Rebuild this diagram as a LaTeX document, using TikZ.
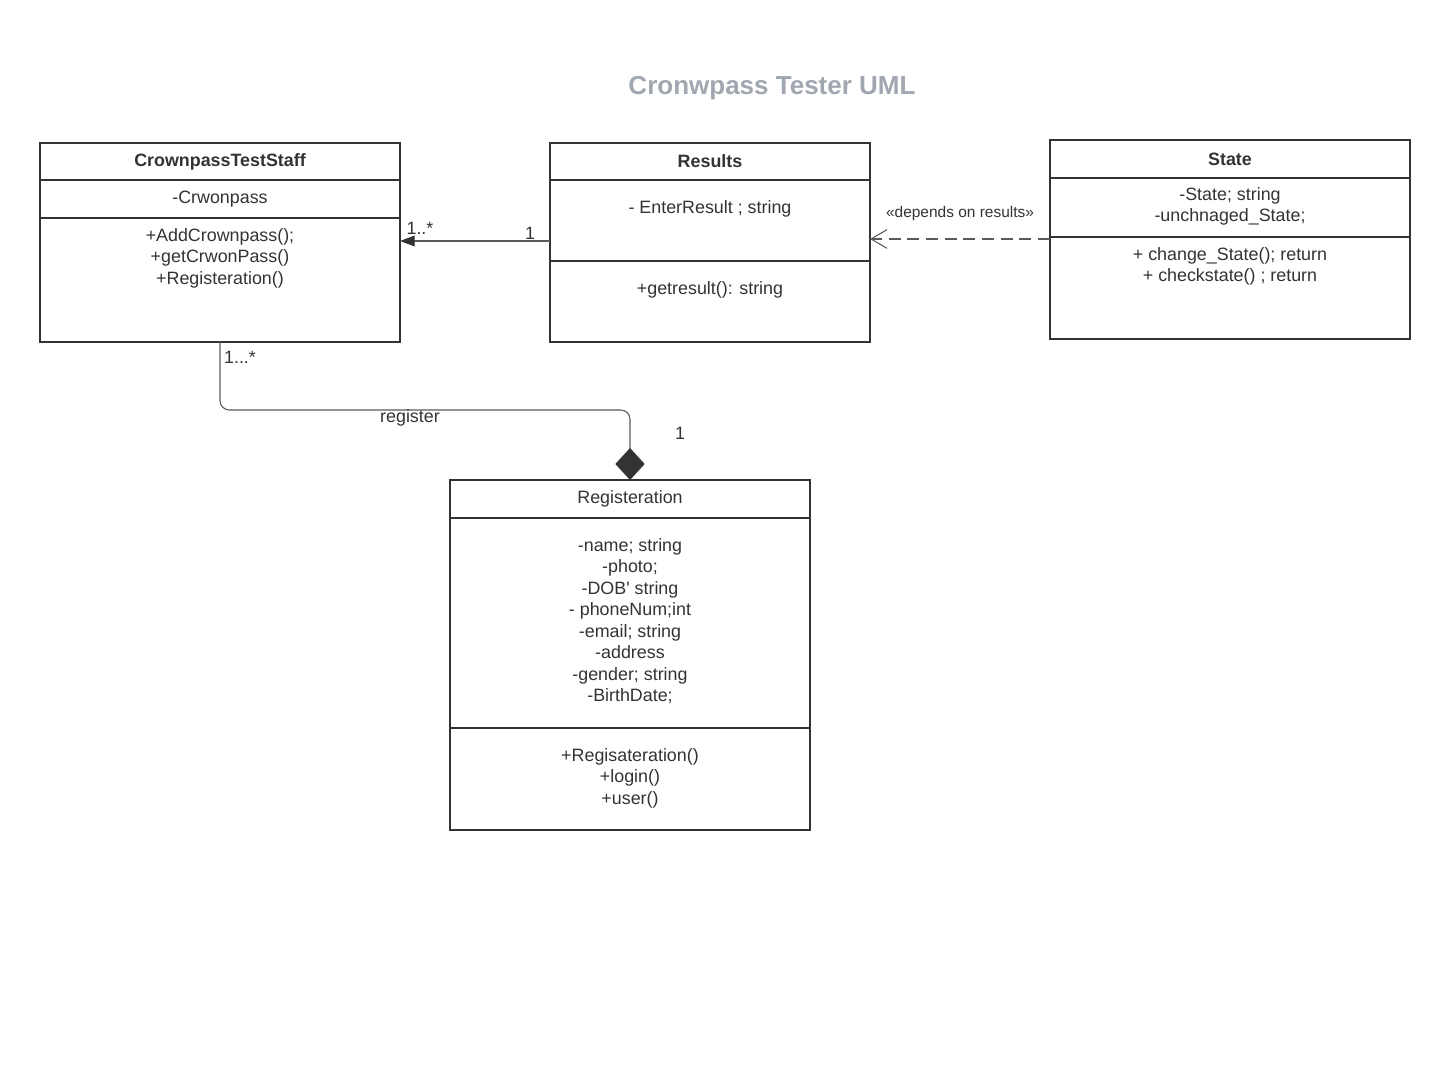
\documentclass[tikz,border=0pt]{standalone}
\usepackage{fontspec}
\setmainfont{Liberation Sans}
\usetikzlibrary{positioning,arrows.meta}
\definecolor{umlline}{RGB}{51,51,51}
\definecolor{umltext}{RGB}{51,51,51}
\definecolor{titlegray}{RGB}{161,167,176}
\definecolor{linkgray}{RGB}{90,90,90}
\tikzset{
	part/.style={draw=umlline, line width=1.5pt, outer sep=0pt, inner sep=0pt, text=umltext, font=\fontsize{13.4}{16.1}\selectfont},
	parttitle/.style={part, font=\fontsize{13.4}{16.1}\selectfont\bfseries},
	member/.style={inner sep=0pt, align=center, text=umltext, font=\fontsize{13.4}{16.1}\selectfont},
	mult/.style={inner sep=0pt, text=umltext, font=\fontsize{13.4}{15}\selectfont},
	assoc/.style={draw=linkgray, line width=0.8pt, -{Triangle[length=11pt,width=8pt,color=umlline]}},
	depend/.style={draw=linkgray, line width=0.8pt, dash pattern=on 9pt off 5pt, -{Straight Barb[length=12pt,width=14pt]}},
	compo/.style={draw=linkgray, line width=0.8pt, rounded corners=7pt, -{Diamond[length=24pt,width=22pt,color=umlline]}}
}
\begin{document}
\begin{tikzpicture}[x=0.75pt,y=-0.75pt]
	\useasboundingbox (0,0) rectangle (1454,1071);
	\node[font=\fontsize{19.5}{23}\selectfont\bfseries, text=titlegray] (title) at (772,88) {Cronwpass Tester UML};

	\node[parttitle, minimum width=270pt, minimum height=27.75pt] (stafftitle) at (220,161.5) {CrownpassTestStaff};
	\node[part, minimum width=270pt, minimum height=28.5pt, below=0pt of stafftitle] (staffattr) {-Crwonpass};
	\node[part, minimum width=270pt, minimum height=93pt, below=0pt of staffattr] (staffops) {};
	\node[member, below=6pt of staffops.north] (staffopstext) {\strut+AddCrownpass();\\+getCrwonPass()\\+Registeration()};

	\node[parttitle, minimum width=240pt, minimum height=27.75pt] (restitle) at (710,161.5) {Results};
	\node[part, minimum width=240pt, minimum height=60.75pt, below=0pt of restitle] (resattr) {};
	\node[part, minimum width=240pt, minimum height=60.75pt, below=0pt of resattr] (resops) {};
	\node[member, below=13.5pt of resattr.north] (resattrtext) {\strut- EnterResult ; string};
	\node[member, below=13.5pt of resops.north] (resopstext) {\strut+getresult(): string};

	\node[parttitle, minimum width=270pt, minimum height=28.5pt] (statetitle) at (1230,159) {State};
	\node[part, minimum width=270pt, minimum height=44.25pt, below=0pt of statetitle] (stateattr) {};
	\node[part, minimum width=270pt, minimum height=76.5pt, below=0pt of stateattr] (stateops) {};
	\node[member, below=5.25pt of stateattr.north] (stateattrtext) {\strut-State; string\\-unchnaged\_State;};
	\node[member, below=6pt of stateops.north] (stateopstext) {\strut+ change\_State(); return\\+ checkstate() ; return};

	\node[part, minimum width=270pt, minimum height=28.5pt] (regtitle) at (630,499) {Registeration};
	\node[part, minimum width=270pt, minimum height=157.5pt, below=0pt of regtitle] (regattr) {};
	\node[part, minimum width=270pt, minimum height=76.5pt, below=0pt of regattr] (regops) {};
	\node[member, below=13.5pt of regattr.north] (regattrtext) {\strut-name; string\\-photo;\\-DOB\textquotesingle\ string\\- phoneNum;int\\-email; string\\-address\\-gender; string\\-BirthDate;};
	\node[member, below=13.5pt of regops.north] (regopstext) {\strut+Regisateration()\\+login()\\+user()};

	\coordinate (assocstart) at ([yshift=15pt]resattr.south west);
	\draw[assoc] (assocstart) -- (assocstart -| staffops.east);
	\node[mult] (staffmult) at (420,228) {1..*};
	\node[mult] (resmult) at (530,233) {1};

	\coordinate (dependstart) at ([yshift=-1.5pt]stateops.north west);
	\draw[depend] (dependstart) -- (dependstart -| resattr.east);
	\node[font=\fontsize{11.6}{13}\selectfont, text=umltext] (deplabel) at (960,213) {«depends on results»};

	\coordinate (regbend) at (420,410);
	\draw[compo] (staffops.south) |- (regbend) -| (regtitle.north);
	\node[mult] (regstaffmult) at (240,357) {1...*};
	\node[mult] (reglabel) at (410,418) {register};
	\node[mult] (regmult) at (680,433) {1};
\end{tikzpicture}
\end{document}
